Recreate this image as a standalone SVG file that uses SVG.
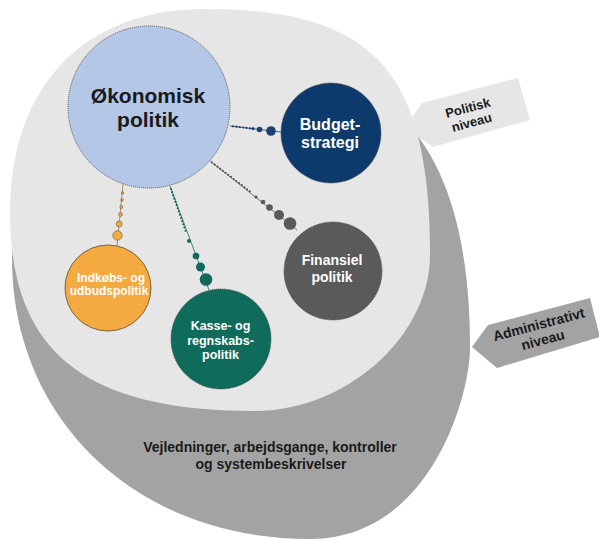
<svg xmlns="http://www.w3.org/2000/svg" width="599" height="540" viewBox="0 0 599 540">
<defs>
<style>
.lbl { font-family: "Liberation Sans", Arial, sans-serif; text-anchor: middle; font-weight: 700; }
.w { fill: #ffffff; }
.d { fill: #1a1a1a; }
.node { stroke: #4a4a4a; stroke-width: 0.8; stroke-dasharray: 1.2 0.8; }
.dots { fill: none; stroke-width: 2.2; stroke-linecap: round; stroke-dasharray: 0 3.4; }
.thin { fill: none; stroke-width: 0.8; }
</style>
</defs>
<rect width="599" height="540" fill="#ffffff"/>

<g id="administrativt-niveau-area">
<path fill="#a3a3a3" d="M240,60 C103.2,60 12,139.2 12,258 C12,421 137.2,539 310,539 C430,539 470,395.75 470,348 C470,152.2 396.4,60 240,60 Z"/>
<text class="lbl d" font-size="14" x="270" y="452">Vejledninger, arbejdsgange, kontroller</text>
<text class="lbl d" font-size="14" x="271" y="469">og systembeskrivelser</text>
</g>

<g id="politisk-niveau-area">
<path fill="#e6e6e6" d="M205,9 C373.75,9 430,70.5 430,255 C430,336.1 346,411 255,411 C83.5,411 10,351.3 10,212 C10,86.1 84.1,9 205,9 Z"/>
</g>

<g id="label-politisk">
<polygon fill="#e6e6e6" points="405,128 422,103 518,78 530,120 433,147"/>
<g transform="rotate(-15 470 116)">
<text class="lbl d" font-size="13" x="470" y="112">Politisk</text>
<text class="lbl d" font-size="13" x="470" y="127">niveau</text>
</g>
</g>

<g id="label-administrativt">
<polygon fill="#a3a3a3" points="472,347 488,325 590,298 600,337 497,368"/>
<g transform="rotate(-15 541 333)">
<text class="lbl d" font-size="14" x="541" y="329">Administrativt</text>
<text class="lbl d" font-size="14" x="541" y="345">niveau</text>
</g>
</g>

<g id="connectors">
<g id="conn-budget" fill="#1f3f6e" stroke="#1f3f6e">
<line class="thin" x1="230" y1="126" x2="281" y2="132"/>
<line class="dots" x1="233" y1="126.3" x2="250" y2="128.3"/>
<circle cx="253" cy="128.6" r="1.6" stroke="none"/>
<circle cx="259.5" cy="129.5" r="2.8" stroke="none"/>
<circle cx="271" cy="131" r="4.8" stroke="none"/>
</g>
<g id="conn-finansiel" fill="#595959" stroke="#595959">
<line class="thin" x1="210" y1="161" x2="297" y2="230"/>
<line class="dots" x1="212" y1="162.5" x2="252" y2="193"/>
<circle cx="256" cy="197" r="1.6" stroke="none"/>
<circle cx="263" cy="202" r="2.3" stroke="none"/>
<circle cx="269.5" cy="207.5" r="3.3" stroke="none"/>
<circle cx="279" cy="215" r="5" stroke="none"/>
<circle cx="290" cy="223.5" r="6.3" stroke="none"/>
</g>
<g id="conn-kasse" fill="#12695b" stroke="#12695b">
<line class="thin" x1="170" y1="186" x2="209" y2="290"/>
<line class="dots" x1="171" y1="189" x2="186" y2="232"/>
<circle cx="189" cy="241" r="2" stroke="none"/>
<circle cx="196" cy="256" r="3.3" stroke="none"/>
<circle cx="200.5" cy="267" r="4.5" stroke="none"/>
<circle cx="206" cy="279.5" r="6.3" stroke="none"/>
</g>
<g id="conn-indkoeb" fill="#f5a941" stroke="#6b5530">
<line class="thin" stroke="#9a7a45" x1="123" y1="184" x2="117" y2="246"/>
<circle cx="122.6" cy="193" r="1.2" stroke-width="0.6"/>
<circle cx="122" cy="200" r="1.3" stroke-width="0.6"/>
<circle cx="121.3" cy="207" r="1.5" stroke-width="0.6"/>
<circle cx="120.5" cy="214.5" r="1.9" stroke-width="0.6"/>
<circle cx="119.2" cy="224" r="3" stroke-width="0.6"/>
<circle cx="117.5" cy="235.5" r="4.7" stroke-width="0.6"/>
</g>
</g>

<g id="node-oekonomisk-politik">
<circle class="node" cx="149" cy="107" r="81" fill="#b4c7e7"/>
<text class="lbl d" font-size="21" x="148" y="103">Økonomisk</text>
<text class="lbl d" font-size="21" x="148" y="127">politik</text>
</g>

<g id="node-budgetstrategi">
<circle class="node" cx="331" cy="133" r="50" fill="#0d3a6c"/>
<text class="lbl w" font-size="16" x="330" y="129.5">Budget-</text>
<text class="lbl w" font-size="16" x="330" y="148">strategi</text>
</g>

<g id="node-finansiel-politik">
<circle class="node" cx="333" cy="271" r="49" fill="#5a5a5a"/>
<text class="lbl w" font-size="14" x="332" y="265">Finansiel</text>
<text class="lbl w" font-size="14" x="332" y="282">politik</text>
</g>

<g id="node-indkoebs-og-udbudspolitik">
<circle cx="108" cy="288" r="43" fill="#f5a941" stroke="#5c4a2a" stroke-width="0.8"/>
<text class="lbl w" font-size="12" x="111" y="281.5">Indkøbs- og</text>
<text class="lbl w" font-size="12" x="109" y="295.2">udbudspolitik</text>
</g>

<g id="node-kasse-og-regnskabspolitik">
<circle class="node" cx="221" cy="339" r="50" fill="#0f6b5a"/>
<text class="lbl w" font-size="12.5" x="220.5" y="330">Kasse- og</text>
<text class="lbl w" font-size="12.5" x="220.5" y="344.5">regnskabs-</text>
<text class="lbl w" font-size="12.5" x="220.5" y="359">politik</text>
</g>
</svg>
